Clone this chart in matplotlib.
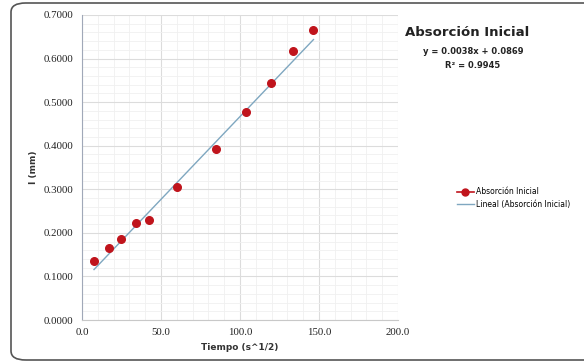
import numpy as np
import matplotlib.pyplot as plt
from matplotlib.patches import FancyBboxPatch
from matplotlib.ticker import MultipleLocator, FormatStrFormatter
from matplotlib.lines import Line2D

# datos
tiempo = [7.6, 17.1, 24.5, 34.4, 42.4, 59.9, 84.5, 103.7, 119.7, 133.8, 146.5]
absorcion = [0.136, 0.166, 0.185, 0.223, 0.230, 0.306, 0.393, 0.477, 0.545, 0.617, 0.666]
pendiente = 0.0038
intercepto = 0.0869

fig = plt.figure(figsize=(5.84, 3.63), dpi=100)
fig.patch.set_facecolor('white')

# marco redondeado del grafico
marco = FancyBboxPatch((11/584, 3/363), 590/584, 357/363,
                       boxstyle="round,pad=0,rounding_size=0.025",
                       transform=fig.transFigure, fill=False,
                       edgecolor='#555555', linewidth=1.2, clip_on=False)
fig.patches.append(marco)

ax = fig.add_axes([82/584, 1-320/363, 316/584, 305/363])

ax.set_xlim(0, 200)
ax.set_ylim(0, 0.7)
ax.xaxis.set_major_locator(MultipleLocator(50))
ax.xaxis.set_minor_locator(MultipleLocator(10))
ax.yaxis.set_major_locator(MultipleLocator(0.1))
ax.yaxis.set_minor_locator(MultipleLocator(0.02))
ax.xaxis.set_major_formatter(FormatStrFormatter('%.1f'))
ax.yaxis.set_major_formatter(FormatStrFormatter('%.4f'))

ax.grid(which='major', color='#dcdcdc', linewidth=0.8)
ax.grid(which='minor', color='#f0f0f0', linewidth=0.6)
ax.set_axisbelow(True)

for s in ['top', 'right']:
    ax.spines[s].set_visible(False)
ax.spines['left'].set_color('#a0a8b8')
ax.spines['bottom'].set_color('#c8c8c8')
ax.tick_params(which='both', length=0, labelsize=7.8, labelcolor='#222222', pad=6)
for lab in ax.get_xticklabels() + ax.get_yticklabels():
    lab.set_fontfamily('Liberation Serif')

# linea de tendencia
xt = np.array([tiempo[0], tiempo[-1]])
ax.plot(xt, pendiente * xt + intercepto, color='#7fa7c0', linewidth=1.0, zorder=2)
ax.scatter(tiempo, absorcion, s=30, color='#c0141c', zorder=3)

ax.set_xlabel('Tiempo (s^1/2)', fontsize=6.5, fontweight='bold', color='#333333', labelpad=4)
ax.set_ylabel('I (mm)', fontsize=6.5, fontweight='bold', color='#333333', labelpad=4)

fig.text(467/584, 1-32/363, 'Absorción Inicial', fontsize=9.5, fontweight='bold',
         ha='center', va='center', color='#222222')
fig.text(473/584, 1-52/363, 'y = 0.0038x + 0.0869', fontsize=6, fontweight='bold',
         ha='center', va='center', color='#222222')
fig.text(473/584, 1-66/363, 'R² = 0.9945', fontsize=6, fontweight='bold',
         ha='center', va='center', color='#222222')

handles = [Line2D([0], [0], color='#c0141c', marker='o', markersize=5, linewidth=1.2),
           Line2D([0], [0], color='#7fa7c0', linewidth=1.0)]
fig.legend(handles, ['Absorción Inicial', 'Lineal (Absorción Inicial)'],
           loc='center left', bbox_to_anchor=(450/584, 1-198/363),
           frameon=False, fontsize=5.5, handlelength=2.2, handletextpad=0.3,
           labelspacing=0.45)

fig.savefig('out.png', dpi=100)
